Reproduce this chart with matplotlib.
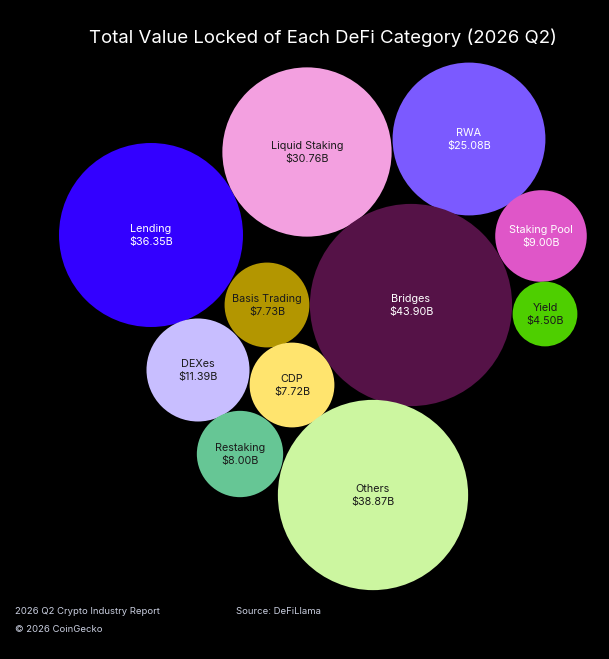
import matplotlib
matplotlib.use("Agg")
import matplotlib.pyplot as plt
from matplotlib.patches import Circle
import numpy as np

# ---- data ----
categories = ["Lending", "Liquid Staking", "RWA", "Staking Pool", "Yield",
              "Basis Trading", "Bridges", "DEXes", "CDP", "Restaking", "Others"]
tvl_billions = [36.35, 30.76, 25.08, 9.00, 4.50, 7.73, 43.90, 11.39, 7.72, 8.00, 38.87]

# ---- layout (bubble centres, in figure pixel space) ----
centers_x = [151, 307, 469, 541, 545, 267, 411, 198, 292, 240, 373]
centers_y = [235, 152, 139, 236, 314, 305, 305, 370, 385, 454, 495]
colors = ["#3300FF", "#F3A0E0", "#7B5AFF", "#DF56C8", "#4ECF00",
          "#B39600", "#551247", "#C8BEFF", "#FFE46E", "#66C695", "#CCF6A0"]
text_colors = ["white", "#1a1a1a", "white", "white", "#1a1a1a",
               "#1a1a1a", "white", "#1a1a1a", "#1a1a1a", "#1a1a1a", "#1a1a1a"]

plt.rcParams['font.family'] = ['Inter', 'DejaVu Sans']

W, H = 609, 659
fig = plt.figure(figsize=(W / 100, H / 100), dpi=100, facecolor="black")
ax = fig.add_axes([0, 0, 1, 1])
ax.set_facecolor("black")
ax.set_xlim(0, W)
ax.set_ylim(H, 0)
ax.set_aspect("equal")
ax.axis("off")

scale = 92.0 / np.sqrt(max(tvl_billions[0], 1e-9))  # radius per sqrt(value)
for name, v, cx, cy, c, tc in zip(categories, tvl_billions, centers_x, centers_y, colors, text_colors):
    r = scale * np.sqrt(v)
    ax.add_patch(Circle((cx, cy), r, facecolor=c, edgecolor="none"))
    ax.text(cx, cy - 6, name, ha="center", va="center", fontsize=7.8, color=tc)
    ax.text(cx, cy + 7, f"${v:.2f}B", ha="center", va="center", fontsize=7.8, color=tc)

fig.text(323 / W, 1 - 38 / H, "Total Value Locked of Each DeFi Category (2026 Q2)",
         ha="center", va="center", fontsize=13.4, color="white")

foot = "#C9CEDF"
fig.text(15 / W, 1 - 612 / H, "2026 Q2 Crypto Industry Report", ha="left", va="center",
         fontsize=6.85, color=foot)
fig.text(15 / W, 1 - 630 / H, "© 2026 CoinGecko", ha="left", va="center",
         fontsize=6.85, color=foot)
fig.text(236 / W, 1 - 612 / H, "Source: DeFiLlama", ha="left", va="center",
         fontsize=6.85, color=foot)

fig.savefig("out.png", dpi=100, facecolor="black")
